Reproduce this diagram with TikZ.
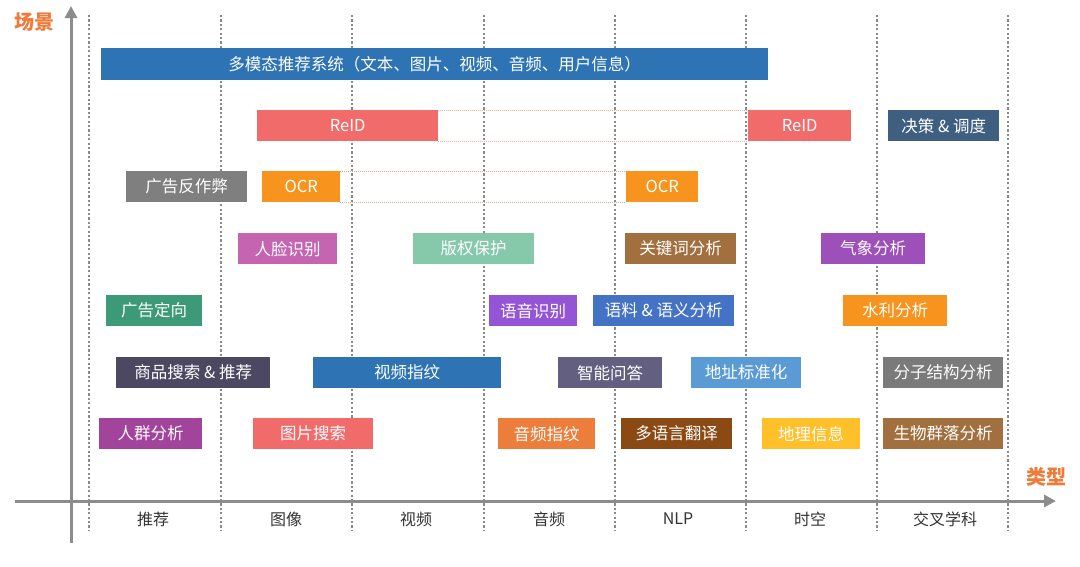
\documentclass[tikz,border=0pt]{standalone}
\usepackage{fontspec}
\setmainfont{Noto Sans CJK SC}
\usetikzlibrary{arrows.meta}
\definecolor{axisgray}{HTML}{8C8C8C}
\definecolor{gridgray}{HTML}{8A8A8A}
\definecolor{axorange}{HTML}{F07A3A}
\definecolor{cblue}{HTML}{2E74B5}
\definecolor{csalmon}{HTML}{F26B6B}
\definecolor{cslate}{HTML}{3E5F80}
\definecolor{cgray}{HTML}{7F7F7F}
\definecolor{corange}{HTML}{F7941D}
\definecolor{cpink}{HTML}{C565B2}
\definecolor{cmint}{HTML}{85C8AA}
\definecolor{cbrown}{HTML}{A2703F}
\definecolor{cviolet}{HTML}{9D4FBA}
\definecolor{cgreen}{HTML}{3C9A79}
\definecolor{cpurple}{HTML}{9355D6}
\definecolor{cmidblue}{HTML}{4472C4}
\definecolor{cdark}{HTML}{4D4862}
\definecolor{cgrayviolet}{HTML}{625F80}
\definecolor{clightblue}{HTML}{5B9BD5}
\definecolor{cgray2}{HTML}{7A7A7A}
\definecolor{cmagenta}{HTML}{A2449C}
\definecolor{corange2}{HTML}{ED7D3A}
\definecolor{cdarkbrown}{HTML}{8B4A13}
\definecolor{cgold}{HTML}{FFC02A}
\begin{document}
\begin{tikzpicture}[x=1pt,y=-1pt,
  box/.style={rectangle, inner sep=0pt, anchor=north west, text=white,
    font=\fontsize{16.5}{19}\selectfont, minimum height=31pt},
  gridline/.style={gridgray, line width=1.6pt, dash pattern=on 2.2pt off 2.2pt},
  axisline/.style={axisgray, line width=3pt, -{Triangle[length=12pt,width=12pt]}},
  catlabel/.style={text=black!80, font=\fontsize{16}{19}\selectfont},
  axlabel/.style={text=axorange, font=\fontsize{20}{24}\selectfont\bfseries},
  link/.style={line width=0.8pt, dash pattern=on 1pt off 1pt}
]
\useasboundingbox (0,0) rectangle (1080,566);
\fill[white] (0,0) rectangle (1080,566);

% grid
\foreach \x in {89,221,352,484,615,746,877,1008}{
  \draw[gridline] (\x,15) -- (\x,531);
}

% axes
\coordinate (xs) at (15,501);
\coordinate (xe) at (1056,501);
\coordinate (ys) at (71,543);
\coordinate (ye) at (71,6);
\draw[axisline] (xs) -- (xe);
\draw[axisline] (ys) -- (ye);
\node[axlabel] (lscene) at (34,22) {场景};
\node[axlabel] (ltype) at (1046,477) {类型};

% category labels
\node[catlabel] (c1) at (153,519) {推荐};
\node[catlabel] (c2) at (286,519) {图像};
\node[catlabel] (c3) at (416,519) {视频};
\node[catlabel] (c4) at (549,519) {音频};
\node[catlabel] (c5) at (678,519) {NLP};
\node[catlabel] (c6) at (810,519) {时空};
\node[catlabel] (c7) at (945,519) {交叉学科};

% boxes
\node[box, fill=cblue, minimum width=667pt, minimum height=32pt] (multi) at (101,48) {多模态推荐系统（文本、图片、视频、音频、用户信息）};
\node[box, fill=csalmon, minimum width=181pt] (reidA) at (257,110) {ReID};
\node[box, fill=csalmon, minimum width=103pt] (reidB) at (748,110) {ReID};
\node[box, fill=cslate, minimum width=111pt] (jue) at (888,110) {决策 \& 调度};
\node[box, fill=cgray, minimum width=121pt] (ggfzb) at (126,171) {广告反作弊};
\node[box, fill=corange, minimum width=78pt] (ocrA) at (262,171) {OCR};
\node[box, fill=corange, minimum width=72pt] (ocrB) at (626,171) {OCR};
\node[box, fill=cpink, minimum width=99pt] (rlsb) at (238,233) {人脸识别};
\node[box, fill=cmint, minimum width=121pt] (bqbh) at (413,233) {版权保护};
\node[box, fill=cbrown, minimum width=111pt] (gjc) at (625,233) {关键词分析};
\node[box, fill=cviolet, minimum width=104pt] (qx) at (821,233) {气象分析};
\node[box, fill=cgreen, minimum width=96pt] (ggdx) at (106,295) {广告定向};
\node[box, fill=cpurple, minimum width=88pt] (yysb) at (489,295) {语音识别};
\node[box, fill=cmidblue, minimum width=141pt] (yl) at (593,295) {语料 \& 语义分析};
\node[box, fill=corange, minimum width=104pt] (sl) at (843,295) {水利分析};
\node[box, fill=cdark, minimum width=154pt] (sp) at (116,357) {商品搜索 \& 推荐};
\node[box, fill=cblue, minimum width=188pt] (spzw) at (313,357) {视频指纹};
\node[box, fill=cgrayviolet, minimum width=104pt] (znwd) at (558,357) {智能问答};
\node[box, fill=clightblue, minimum width=110pt] (dz) at (691,357) {地址标准化};
\node[box, fill=cgray2, minimum width=120pt] (fz) at (883,357) {分子结构分析};
\node[box, fill=cmagenta, minimum width=103pt] (rq) at (99,418) {人群分析};
\node[box, fill=csalmon, minimum width=120pt] (tp) at (253,418) {图片搜索};
\node[box, fill=corange2, minimum width=97pt] (ypzw) at (498,418) {音频指纹};
\node[box, fill=cdarkbrown, minimum width=111pt] (dyy) at (621,418) {多语言翻译};
\node[box, fill=cgold, minimum width=98pt] (dl) at (762,418) {地理信息};
\node[box, fill=cbrown, minimum width=120pt] (sw) at (883,418) {生物群落分析};

% dotted links between split boxes
\draw[link, csalmon!60] (reidA.north east) -- (reidB.north west);
\draw[link, csalmon!60] (reidA.south east) -- (reidB.south west);
\draw[link, corange!50!gray!70] (ocrA.north east) -- (ocrB.north west);
\draw[link, corange!50!gray!70] (ocrA.south east) -- (ocrB.south west);
\end{tikzpicture}
\end{document}
